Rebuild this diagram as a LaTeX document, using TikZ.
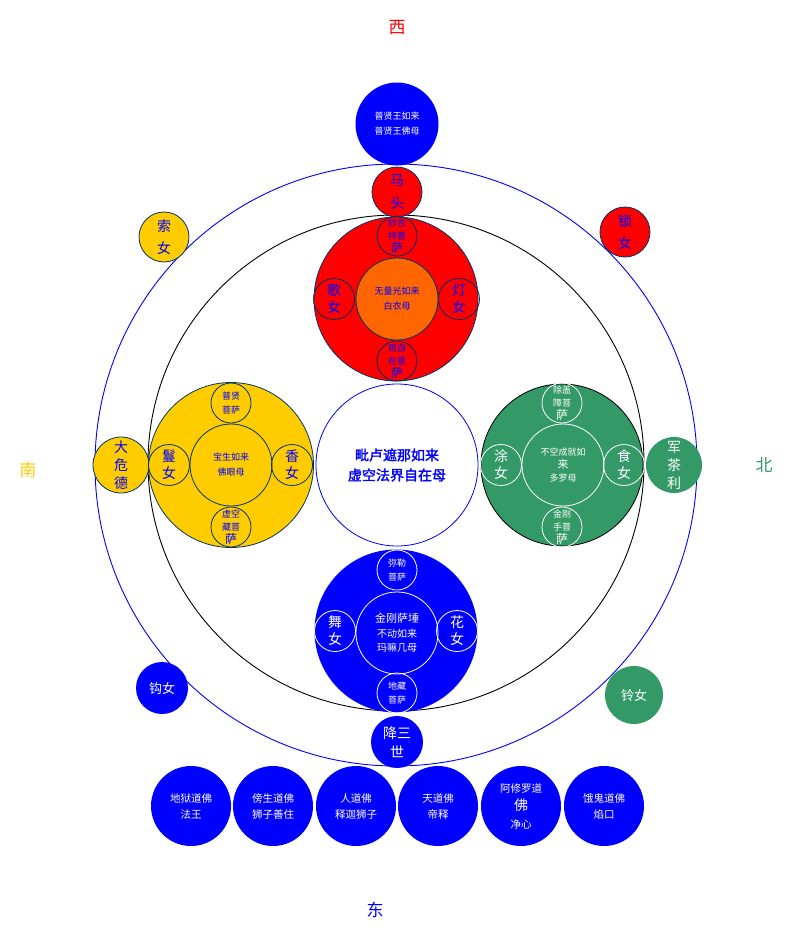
\documentclass[tikz,border=0pt]{standalone}
\usepackage{fontspec}
\newfontfamily\cjk{Noto Sans CJK SC}
\newfontfamily\cjkbold[FakeBold=2]{Noto Sans CJK SC}
\definecolor{cred}{HTML}{FF0000}
\definecolor{corange}{HTML}{FF6600}
\definecolor{cyellow}{HTML}{FFCC00}
\definecolor{cgreen}{HTML}{339966}
\definecolor{cblue}{HTML}{0000FF}
\definecolor{cnavy}{HTML}{003366}
\newcommand{\fs}[2]{\fontsize{#1}{#2}\selectfont}
\begin{document}
\begin{tikzpicture}[x=1pt,y=-1pt,
  disc/.style={circle, inner sep=0pt, outer sep=0pt, minimum size=#1, line width=0.8pt},
  txt/.style={inner sep=0pt, align=center, font=\cjk},
  bluetxt/.style={txt, text=cblue},
  whitetxt/.style={txt, text=white},
  ring/.style={circle, inner sep=0pt, minimum size=#1, line width=0.9pt},
  dir/.style={txt, font=\cjk\fs{17}{17}}]
\useasboundingbox (0,0) rectangle (796,945);
% rings
\node[ring=602, draw=cblue] (outerring) at (396,465) {};
\node[ring=496, draw=black] (innerring) at (396,463) {};
% directions
\node[dir, text=cred] (west) at (397,28) {西};
\node[dir, text=cyellow] (south) at (28,470) {南};
\node[dir, text=cgreen] (north) at (764,465) {北};
\node[dir, text=cblue] (east) at (375,910) {东};
% top
\node[disc=83, fill=cblue] (puxian) at (397,124) {};
\node[whitetxt, font=\cjk\fs{9}{15}] at (puxian) {普贤王如来\\普贤王佛母};
\node[disc=50, fill=cred, draw=cnavy] (matou) at (397,192) {};
\node[bluetxt, font=\cjk\fs{14}{23}] at (matou) {马\\头};
% corners
\node[disc=50, fill=cyellow, draw=cnavy] (suonv) at (164,237) {};
\node[bluetxt, font=\cjk\fs{14}{22}] at (suonv) {索\\女};
\node[disc=50, fill=cred, draw=cnavy] (suonv2) at (625,232) {};
\node[bluetxt, font=\cjk\fs{14}{22}] at (suonv2) {锁\\女};
\node[disc=52, fill=cblue] (gounv) at (162,688) {};
\node[whitetxt, font=\cjk\fs{13}{13}] at (gounv) {钩女};
\node[disc=58, fill=cgreen] (lingnv) at (634,695) {};
\node[whitetxt, font=\cjk\fs{13}{13}] at (lingnv) {铃女};
% side guardians
\node[disc=56, fill=cyellow, draw=cnavy] (daweide) at (121,465) {};
\node[bluetxt, font=\cjk\fs{14}{18}] at (daweide) {大\\危\\德};
\node[disc=56, fill=cgreen] (juncha) at (674,465) {};
\node[whitetxt, font=\cjk\fs{14}{18}] at (juncha) {军\\茶\\利};
% red group
\node[disc=164, fill=cred, draw=cnavy] (red) at (396,299) {};
\node[disc=82, fill=corange, draw=cnavy] (redin) at (397,299) {};
\node[bluetxt, font=\cjk\fs{9}{15}] at (redin) {无量光如来\\白衣母};
\node[disc=40, draw=cnavy] (redtop) at (397,236) {};
\node[bluetxt, font=\cjk\fs{9}{13}] at (redtop) {妙吉\\祥菩\\\fs{12}{13}萨};
\node[disc=40, draw=cnavy] (redbot) at (397,361) {};
\node[bluetxt, font=\cjk\fs{9}{13}] at (redbot) {观自\\在菩\\\fs{12}{13}萨};
\node[disc=41, draw=cnavy] (redl) at (334,299) {};
\node[bluetxt, font=\cjk\fs{14}{17}] at (redl) {歌\\女};
\node[disc=41, draw=cnavy] (redr) at (459,299) {};
\node[bluetxt, font=\cjk\fs{14}{17}] at (redr) {灯\\女};
% yellow group
\node[disc=165, fill=cyellow, draw=cnavy] (yel) at (231,465) {};
\node[disc=82, draw=cnavy] (yelin) at (231,465) {};
\node[bluetxt, font=\cjk\fs{9}{15}] at (yelin) {宝生如来\\佛眼母};
\node[disc=40, draw=cnavy] (yeltop) at (231,403) {};
\node[bluetxt, font=\cjk\fs{9}{14}] at (yeltop) {普贤\\菩萨};
\node[disc=40, draw=cnavy] (yelbot) at (231,527) {};
\node[bluetxt, font=\cjk\fs{9}{13}] at (yelbot) {虚空\\藏菩\\\fs{12}{13}萨};
\node[disc=41, draw=cnavy] (yell) at (169,465) {};
\node[bluetxt, font=\cjk\fs{14}{17}] at (yell) {鬘\\女};
\node[disc=41, draw=cnavy] (yelr) at (292,465) {};
\node[bluetxt, font=\cjk\fs{14}{17}] at (yelr) {香\\女};
% green group
\node[disc=162, fill=cgreen, draw=black] (grn) at (562,465) {};
\node[disc=82, draw=white] (grnin) at (563,465) {};
\node[whitetxt, font=\cjk\fs{9}{13}] at (grnin) {不空成就如\\\fs{11}{13}来\\多罗母};
\node[disc=40, draw=white] (grntop) at (562,403) {};
\node[whitetxt, font=\cjk\fs{9}{13}] at (grntop) {除盖\\障菩\\\fs{12}{13}萨};
\node[disc=40, draw=white] (grnbot) at (562,527) {};
\node[whitetxt, font=\cjk\fs{9}{13}] at (grnbot) {金刚\\手菩\\\fs{12}{13}萨};
\node[disc=41, draw=white] (grnl) at (501,465) {};
\node[whitetxt, font=\cjk\fs{14}{17}] at (grnl) {涂\\女};
\node[disc=41, draw=white] (grnr) at (624,465) {};
\node[whitetxt, font=\cjk\fs{14}{17}] at (grnr) {食\\女};
% blue group
\node[disc=163, fill=cblue] (blu) at (396,631) {};
\node[disc=82, draw=white] (bluin) at (397,633) {};
\node[whitetxt, font=\cjk\fs{11}{14.5}] at (bluin) {金刚萨埵\\\fs{10}{14.5}不动如来\\\fs{10}{14.5}玛嘛几母};
\node[disc=40, draw=white] (blutop) at (397,570) {};
\node[whitetxt, font=\cjk\fs{9}{14}] at (blutop) {弥勒\\菩萨};
\node[disc=40, draw=white] (blubot) at (397,693) {};
\node[whitetxt, font=\cjk\fs{9}{14}] at (blubot) {地藏\\菩萨};
\node[disc=41, draw=white] (blul) at (335,631) {};
\node[whitetxt, font=\cjk\fs{14}{17}] at (blul) {舞\\女};
\node[disc=41, draw=white] (blur) at (457,631) {};
\node[whitetxt, font=\cjk\fs{14}{17}] at (blur) {花\\女};
\node[disc=52, fill=cblue] (xiangsan) at (397,742) {};
\node[whitetxt, font=\cjk\fs{14}{19}] at (xiangsan) {降三\\世};
% center
\node[disc=162, fill=white, draw=cblue] (center) at (397,465) {};
\node[txt, text=cblue, font=\cjkbold\fs{14}{20}] at (center) {毗卢遮那如来\\虚空法界自在母};
% bottom row
\node[disc=80, fill=cblue] (b1) at (191,806) {};
\node[whitetxt, font=\cjk\fs{10.5}{16}] at (b1) {地狱道佛\\法王};
\node[disc=80, fill=cblue] (b2) at (273,806) {};
\node[whitetxt, font=\cjk\fs{10.5}{16}] at (b2) {傍生道佛\\狮子善住};
\node[disc=80, fill=cblue] (b3) at (356,806) {};
\node[whitetxt, font=\cjk\fs{10.5}{16}] at (b3) {人道佛\\释迦狮子};
\node[disc=80, fill=cblue] (b4) at (438,806) {};
\node[whitetxt, font=\cjk\fs{10.5}{16}] at (b4) {天道佛\\帝释};
\node[disc=80, fill=cblue] (b5) at (521,806) {};
\node[whitetxt, font=\cjk\fs{10.5}{18}] at (b5) {阿修罗道\\\fs{14}{18}佛\\净心};
\node[disc=80, fill=cblue] (b6) at (604,806) {};
\node[whitetxt, font=\cjk\fs{10.5}{16}] at (b6) {饿鬼道佛\\焰口};
\end{tikzpicture}
\end{document}
